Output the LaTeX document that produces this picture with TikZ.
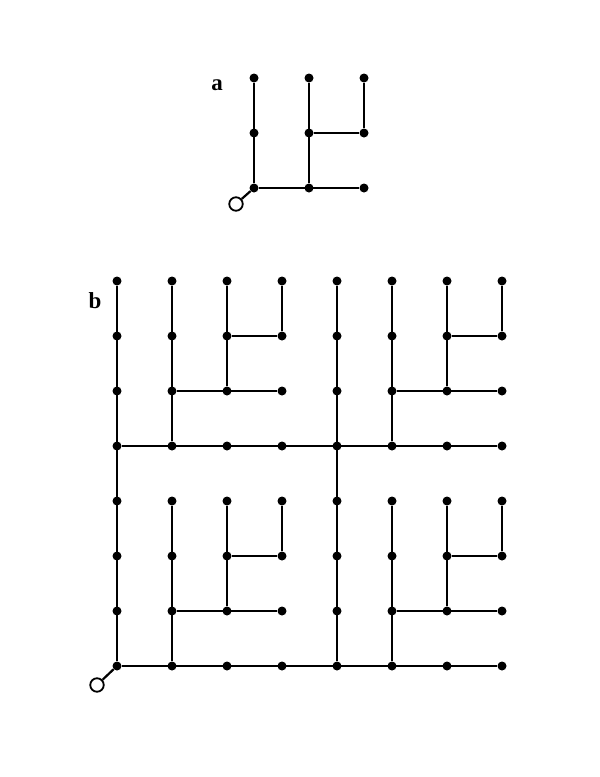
\documentclass[tikz,border=0pt]{standalone}
\usepackage{fontspec}
\setmainfont{Liberation Serif}
\begin{document}
\begin{tikzpicture}[%
 x=1pt,y=-1pt,
 dot/.style={
 	circle,
 	fill=black,
 	inner sep=0pt,
 	minimum size=9pt
 },
 root/.style={
 	circle,
 	draw=black,
 	line width=1.8pt,
 	fill=white,
 	inner sep=0pt,
 	minimum size=13.5pt
 },
 link/.style={
 	draw,
 	line width=2.2pt
 },
 tag/.style={
 	font=\fontsize{23}{26}\selectfont\bfseries
 }
 ]
\useasboundingbox (0,0) rectangle (600,777);
% tree a: 3x3 grid
\foreach \i in {1,2,3}
  \foreach \j in {1,2,3}
    \path (199+55*\i,243-55*\j) node[dot] (a\i\j) {};
\path (236,204) node[root] (aroot) {};
\path (217,85) node[tag] (alabel) {a};
\draw[link] (aroot) -- (a11);
\draw[link] (a11) -- (a31);
\draw[link] (a11) -- (a13);
\draw[link] (a21) -- (a23);
\draw[link] (a22) -- (a32);
\draw[link] (a32) -- (a33);
% tree b: 8x8 grid
\foreach \i in {1,...,8}
  \foreach \j in {1,...,8}
    \path (62+55*\i,721-55*\j) node[dot] (b\i\j) {};
\path (97,685) node[root] (broot) {};
\path (95,301) node[tag] (blabel) {b};
\draw[link] (broot) -- (b11);
\draw[link] (b11) -- (b81);
\draw[link] (b11) -- (b18);
\draw[link] (b15) -- (b85);
\draw[link] (b51) -- (b58);
% the four quadrants
\foreach \ox/\oy in {0/0,0/4,4/0,4/4}{
  \pgfmathtruncatemacro{\ca}{\ox+2}
  \pgfmathtruncatemacro{\cb}{\ox+3}
  \pgfmathtruncatemacro{\cc}{\ox+4}
  \pgfmathtruncatemacro{\ra}{\oy+1}
  \pgfmathtruncatemacro{\rb}{\oy+2}
  \pgfmathtruncatemacro{\rc}{\oy+3}
  \pgfmathtruncatemacro{\rd}{\oy+4}
  \draw[link] (b\ca\ra) -- (b\ca\rd);
  \draw[link] (b\ca\rb) -- (b\cc\rb);
  \draw[link] (b\cb\rb) -- (b\cb\rd);
  \draw[link] (b\cb\rc) -- (b\cc\rc);
  \draw[link] (b\cc\rc) -- (b\cc\rd);
}
\end{tikzpicture}
\end{document}
